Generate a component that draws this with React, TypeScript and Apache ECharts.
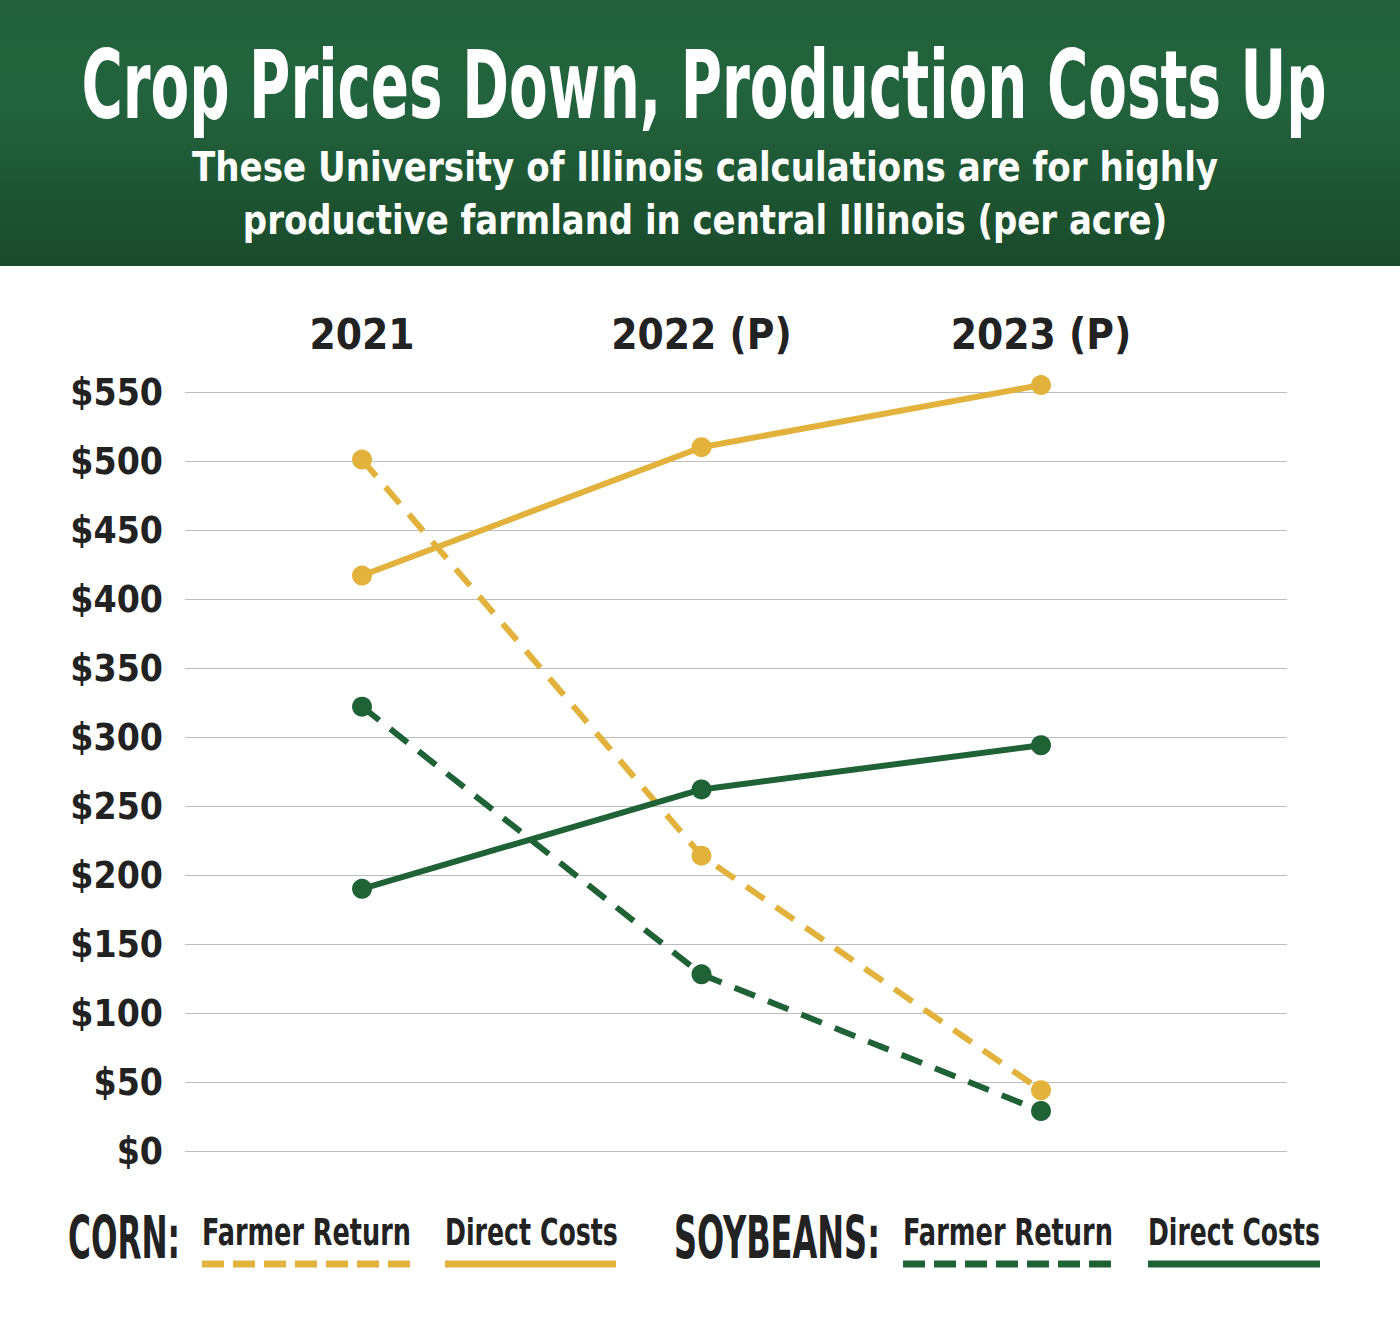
import React, { useEffect, useRef } from "react";
import * as echarts from "echarts";

const years = ["2021", "2022 (P)", "2023 (P)"];
const cornFarmerReturn = [501, 214, 44];
const cornDirectCosts = [417, 510, 555];
const soyFarmerReturn = [322, 128, 29];
const soyDirectCosts = [190, 262, 294];
const yTickMax = 550;
const yTickStep = 50;

const title = "Crop Prices Down, Production Costs Up";
const subtitle1 = "These University of Illinois calculations are for highly";
const subtitle2 = "productive farmland in central Illinois (per acre)";

const YELLOW = "#E2B23C";
const GREEN = "#1F6235";
const DARK = "#222222";
const COND = "'DejaVu Sans Condensed', 'DejaVu Sans', sans-serif";

function measure(text: string, font: string): number {
  const ctx = document.createElement("canvas").getContext("2d")!;
  ctx.font = font;
  return ctx.measureText(text).width;
}

function fitText(
  text: string,
  x: number,
  y: number,
  width: number,
  size: number,
  align: string,
  vAlign: string,
  fill: string,
  extra: any = {}
) {
  const font = `bold ${size}px ${COND}`;
  const w = measure(text, font);
  return {
    type: "text",
    x,
    y,
    scaleX: w > 0 ? width / w : 1,
    z: 3,
    style: { text, fill, font, textAlign: align, textVerticalAlign: vAlign, ...extra },
  };
}

export default function App() {
  const ref = useRef<HTMLDivElement>(null);
  useEffect(() => {
    document.body.style.margin = "0";
    const chart = echarts.init(ref.current!, null, { renderer: "svg" });
    const legendLine = (x1: number, x2: number, color: string, dashed: boolean) => ({
      type: "line",
      shape: { x1, y1: 1264, x2, y2: 1264 },
      style: { stroke: color, lineWidth: 7, lineDash: dashed ? [22, 9] : null },
    });
    const glow = { shadowColor: "rgba(0,0,0,0.6)", shadowBlur: 10 };
    const option: any = {
      animation: false,
      backgroundColor: "#ffffff",
      graphic: [
        {
          type: "rect",
          shape: { x: 0, y: 0, width: 1400, height: 266 },
          style: {
            fill: new echarts.graphic.LinearGradient(0, 0, 0, 1, [
              { offset: 0, color: "#21603a" },
              { offset: 0.35, color: "#22643d" },
              { offset: 1, color: "#1a4a2b" },
            ]),
          },
          z: 0,
        },
        fitText(title, 704, 86, 1245, 94, "center", "middle", "#ffffff", glow),
        fitText(subtitle1, 705, 167, 1026, 40, "center", "middle", "#ffffff", glow),
        fitText(subtitle2, 705, 220, 925, 40, "center", "middle", "#ffffff", glow),
        fitText("CORN:", 68, 1267, 112, 58, "left", "bottom", DARK),
        fitText("Farmer Return", 202, 1251, 209, 38, "left", "bottom", DARK),
        fitText("Direct Costs", 445, 1251, 173, 38, "left", "bottom", DARK),
        fitText("SOYBEANS:", 674, 1267, 206, 58, "left", "bottom", DARK),
        fitText("Farmer Return", 903, 1251, 210, 38, "left", "bottom", DARK),
        fitText("Direct Costs", 1148, 1251, 172, 38, "left", "bottom", DARK),
        legendLine(202, 411, YELLOW, true),
        legendLine(445, 616, YELLOW, false),
        legendLine(903, 1113, GREEN, true),
        legendLine(1148, 1320, GREEN, false),
      ],
      grid: [
        { left: 185, right: 113, top: 392, bottom: 169 },
        { left: 362, right: 359, top: 392, bottom: 169 },
      ],
      xAxis: [
        { type: "value", gridIndex: 0, show: false, min: 0, max: 1 },
        {
          type: "category",
          gridIndex: 1,
          data: years,
          boundaryGap: false,
          position: "top",
          axisLine: { show: false },
          axisTick: { show: false },
          splitLine: { show: false },
          axisLabel: { color: DARK, fontSize: 42, fontWeight: "bold", fontFamily: COND, margin: 37 },
        },
      ],
      yAxis: [
        {
          type: "value",
          gridIndex: 0,
          min: 0,
          max: yTickMax,
          interval: yTickStep,
          axisLine: { show: false },
          axisTick: { show: false },
          splitLine: { lineStyle: { color: "#bdbdbd", width: 1.2 } },
          axisLabel: {
            color: DARK,
            fontSize: 37,
            fontWeight: "bold",
            fontFamily: COND,
            margin: 22,
            formatter: (v: number) => "$" + v,
          },
        },
        { type: "value", gridIndex: 1, min: 0, max: yTickMax, show: false },
      ],
      series: [
        {
          name: "Corn Direct Costs",
          type: "line",
          xAxisIndex: 1,
          yAxisIndex: 1,
          data: cornDirectCosts,
          clip: false,
          symbol: "circle",
          symbolSize: 20,
          lineStyle: { color: YELLOW, width: 6 },
          itemStyle: { color: YELLOW },
        },
        {
          name: "Corn Farmer Return",
          type: "line",
          xAxisIndex: 1,
          yAxisIndex: 1,
          data: cornFarmerReturn,
          clip: false,
          symbol: "circle",
          symbolSize: 20,
          lineStyle: { color: YELLOW, width: 6, type: [22, 14] },
          itemStyle: { color: YELLOW },
        },
        {
          name: "Soybeans Farmer Return",
          type: "line",
          xAxisIndex: 1,
          yAxisIndex: 1,
          data: soyFarmerReturn,
          clip: false,
          symbol: "circle",
          symbolSize: 20,
          lineStyle: { color: GREEN, width: 6, type: [22, 14] },
          itemStyle: { color: GREEN },
        },
        {
          name: "Soybeans Direct Costs",
          type: "line",
          xAxisIndex: 1,
          yAxisIndex: 1,
          data: soyDirectCosts,
          clip: false,
          symbol: "circle",
          symbolSize: 20,
          lineStyle: { color: GREEN, width: 6 },
          itemStyle: { color: GREEN },
        },
      ],
    };
    chart.setOption(option);
    return () => chart.dispose();
  }, []);
  return <div ref={ref} style={{ width: 1400, height: 1320 }} />;
}
